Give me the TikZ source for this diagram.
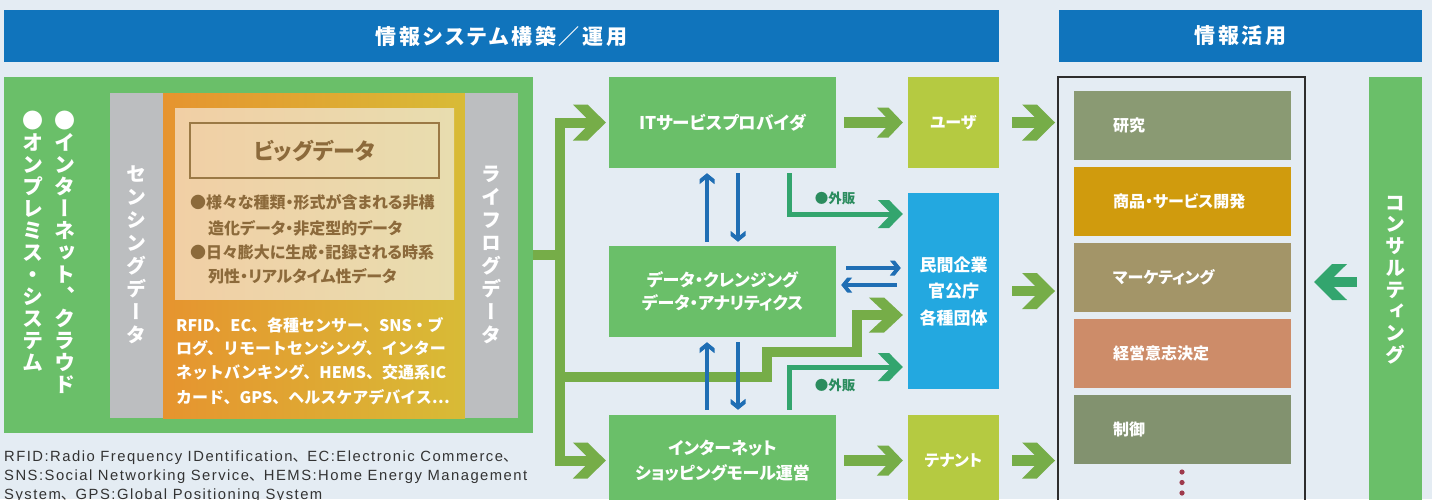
\documentclass[tikz,border=0pt]{standalone}
\usepackage{fontspec}
\setmainfont{Noto Sans CJK JP}[RawFeature=+palt]
\newfontfamily\jpfull{Noto Sans CJK JP}
\newfontfamily\vjp{Noto Sans CJK JP}[RawFeature=+vert]
\newfontfamily\latf{Liberation Sans}[LetterSpace=10]
\usetikzlibrary{arrows.meta}
\pgfdeclarearrow{
  name = Chev,
  parameters = {\the\pgfarrowlength,\the\pgfarrowwidth},
  setup code = {
    \pgfarrowssettipend{0pt}
    \pgfarrowssetlineend{-0.4\pgfarrowlength}
    \pgfarrowssetvisualbackend{-\pgfarrowlength}
    \pgfarrowssetbackend{-\pgfarrowlength}
    \pgfarrowssavethe\pgfarrowlength
    \pgfarrowssavethe\pgfarrowwidth
  },
  drawing code = {
    \pgfpathmoveto{\pgfqpoint{0pt}{0pt}}
    \pgfpathlineto{\pgfqpoint{-0.55\pgfarrowlength}{0.5\pgfarrowwidth}}
    \pgfpathlineto{\pgfqpoint{-\pgfarrowlength}{0.5\pgfarrowwidth}}
    \pgfpathlineto{\pgfqpoint{-0.45\pgfarrowlength}{0pt}}
    \pgfpathlineto{\pgfqpoint{-\pgfarrowlength}{-0.5\pgfarrowwidth}}
    \pgfpathlineto{\pgfqpoint{-0.55\pgfarrowlength}{-0.5\pgfarrowwidth}}
    \pgfpathclose
    \pgfusepathqfill
  },
  defaults = {length = 26pt, width = 30pt}
}
\definecolor{bgc}{HTML}{E4ECF3}
\definecolor{bann}{HTML}{1074BC}
\definecolor{boxg}{HTML}{6ABF69}
\definecolor{grayc}{HTML}{BCBEC0}
\definecolor{or1}{HTML}{E6942F}
\definecolor{or2}{HTML}{D8BB36}
\definecolor{lt1}{HTML}{F1CFA5}
\definecolor{lt2}{HTML}{E8DDAF}
\definecolor{brn}{HTML}{8C6A3B}
\definecolor{brnb}{HTML}{9B7945}
\definecolor{arrg}{HTML}{76AD48}
\definecolor{tealg}{HTML}{33A56E}
\definecolor{lblc}{HTML}{2B8C5E}
\definecolor{blu}{HTML}{1F6EB4}
\definecolor{ygc}{HTML}{B5CA41}
\definecolor{cyc}{HTML}{23A8E0}
\definecolor{rc1}{HTML}{8A9A73}
\definecolor{rc2}{HTML}{D09B0D}
\definecolor{rc3}{HTML}{A39568}
\definecolor{rc4}{HTML}{CD8C69}
\definecolor{rc5}{HTML}{82926F}
\definecolor{dotc}{HTML}{9E3A4C}
\definecolor{fnc}{HTML}{333333}
\definecolor{panc}{HTML}{2D2D2D}
\begin{document}
\begin{tikzpicture}[x=1pt,y=-1pt,
  bannerbox/.style={fill=bann, text=white, inner sep=0, font=\bfseries\fontsize{21}{24}\selectfont\addfontfeature{LetterSpace=13}},
  gbox/.style={fill=boxg, text=white, inner sep=0, align=center, minimum width=227pt, minimum height=91pt, font=\bfseries\fontsize{17.5}{24}\selectfont},
  sbox/.style={text=white, inner sep=0, align=center, minimum width=91pt, font=\bfseries\fontsize{16}{26.5}\selectfont},
  vt/.style={text=white, inner sep=0, align=center, font=\vjp\bfseries\fontsize{21}{22}\selectfont},
  vts/.style={text=white, inner sep=0, align=center, font=\vjp\bfseries\fontsize{20}{23}\selectfont},
  bdt/.style={text=brn, inner sep=0, anchor=west, font=\bfseries\fontsize{16}{18}\selectfont},
  wt/.style={text=white, inner sep=0, anchor=west, font=\jpfull\bfseries\fontsize{16}{18}\selectfont},
  rbox/.style={minimum width=217pt, minimum height=69pt, inner sep=0, text width=217pt, align=left, text=white, font=\bfseries\fontsize{16}{18}\selectfont},
  lbl/.style={text=lblc, inner sep=0, font=\bfseries\fontsize{13.5}{15}\selectfont},
  fn/.style={text=fnc, inner sep=0, anchor=west, font=\latf\fontsize{14.8}{18}\selectfont},
  trunk/.style={draw=arrg, line width=10pt, line join=miter},
  bigarr/.style={draw=arrg, line width=10.5pt, -{Chev[length=33pt,width=36pt]}},
  midarr/.style={draw=arrg, line width=11pt, -{Chev[length=26pt,width=30pt]}},
  tarr/.style={draw=tealg, line width=5pt, line join=miter, -{Chev[length=25pt,width=28pt]}},
  barr/.style={draw=blu, line width=4.5pt, -{Chev[length=11pt,width=15pt]}}
]
\useasboundingbox (0,0) rectangle (1432,499);
\fill[bgc] (0,0) rectangle (1432,499);

% banners
\node[bannerbox, minimum width=995pt, minimum height=52pt] (b1) at (501.5,36) {情報システム構築／運用};
\node[bannerbox, minimum width=363pt, minimum height=52pt] (b2) at (1240.5,36) {情報活用};

% source box
\node[fill=boxg, minimum width=529pt, minimum height=356pt, inner sep=0] (src) at (268.5,255) {};
\node[fill=grayc, minimum width=53pt, minimum height=325pt, inner sep=0] (sens) at (136.5,255.5) {};
\node[left color=or1, right color=or2, minimum width=302pt, minimum height=325pt, inner sep=0] (orb) at (314,255.5) {};
\node[fill=grayc, minimum width=53pt, minimum height=325pt, inner sep=0] (life) at (491.5,255.5) {};
\node[left color=lt1, right color=lt2, minimum width=279pt, minimum height=191pt, inner sep=0] (inner) at (314.5,203.5) {};
\node[draw=brnb, line width=1.5pt, text=brn, minimum width=249pt, minimum height=55pt, inner sep=0, font=\bfseries\fontsize{22}{24}\selectfont] (bdtitle) at (314.5,150.5) {ビッグデータ};

\node[bdt] (l1) at (190,202) {●様々な種類・形式が含まれる非構};
\node[bdt] (l2) at (208,228) {造化データ・非定型的データ};
\node[bdt] (l3) at (190,252) {●日々膨大に生成・記録される時系};
\node[bdt] (l4) at (208,276) {列性・リアルタイム性データ};

\node[wt] (w1) at (176,325) {RFID、EC、各種センサー、SNS・ブ};
\node[wt] (w2) at (176,348) {ログ、リモートセンシング、インター};
\node[wt] (w3) at (176,372) {ネットバンキング、HEMS、交通系IC};
\node[wt] (w4) at (176,397) {カード、GPS、ヘルスケアデバイス…};

\node[vt, anchor=north] (v1) at (65,111) {●\\イ\\ン\\タ\\ー\\ネ\\ッ\\ト\\、\\ク\\ラ\\ウ\\ド};
\node[vt, anchor=north] (v2) at (33,111) {●\\オ\\ン\\プ\\レ\\ミ\\ス\\・\\シ\\ス\\テ\\ム};
\node[vts] (vs) at (136.5,255) {セ\\ン\\シ\\ン\\グ\\デ\\ー\\タ};
\node[vts] (vl) at (491.5,255) {ラ\\イ\\フ\\ロ\\グ\\デ\\ー\\タ};

% middle boxes
\node[gbox] (itsp) at (722.5,122.5) {ITサービスプロバイダ};
\node[gbox, font=\bfseries\fontsize{17}{23}\selectfont] (dca) at (722.5,291.5) {データ・クレンジング\\データ・アナリティクス};
\node[gbox, font=\bfseries\fontsize{17}{24.5}\selectfont] (mall) at (722.5,460.5) {インターネット\\ショッピングモール運営};
\node[sbox, fill=ygc, minimum height=91pt] (user) at (953.5,122.5) {ユーザ};
\node[sbox, fill=cyc, minimum height=196pt, font=\bfseries\fontsize{17}{26.5}\selectfont] (minkan) at (953.5,291) {民間企業\\官公庁\\各種団体};
\node[sbox, fill=ygc, minimum height=91pt] (tenant) at (953.5,460.5) {テナント};

% right panel
\node[draw=panc, line width=2pt, minimum width=247pt, minimum height=446pt, inner sep=0] (panel) at (1181.5,300) {};
\node[rbox, fill=rc1] (r1) at (1182.5,125.5) {\hspace*{39pt}研究};
\node[rbox, fill=rc2] (r2) at (1182.5,201.5) {\hspace*{39pt}商品・サービス開発};
\node[rbox, fill=rc3] (r3) at (1182.5,277.5) {\hspace*{39pt}マーケティング};
\node[rbox, fill=rc4] (r4) at (1182.5,353.5) {\hspace*{39pt}経営意志決定};
\node[rbox, fill=rc5] (r5) at (1182.5,429.5) {\hspace*{39pt}制御};
\fill[dotc] (1182,472) circle (2.6pt);
\fill[dotc] (1182,482.5) circle (2.6pt);
\fill[dotc] (1182,493) circle (2.6pt);

\node[fill=boxg, minimum width=53pt, minimum height=446pt, inner sep=0] (consult) at (1395.5,300) {};
\node[vts, font=\vjp\bfseries\fontsize{20}{21.75}\selectfont] (vc) at (1395.5,280) {コ\\ン\\サ\\ル\\テ\\ィ\\ン\\グ};

% trunk
\coordinate (tj) at (560,255);
\coordinate (bA) at (560,377);
\coordinate (bB) at (767,377);
\coordinate (bC) at (767,352);
\coordinate (bD) at (857,352);
\coordinate (bE) at (857,315);
\draw[trunk] (src.east) -- (tj);
\draw[trunk, -{Chev[length=33pt,width=36pt]}, shorten >=3pt] (tj) |- (itsp.west);
\draw[trunk, -{Chev[length=33pt,width=36pt]}, shorten >=3pt] (tj) |- (mall.west);
\draw[trunk, -{Chev[length=34pt,width=35pt]}, shorten >=5pt] (bA) -- (bB) -- (bC) -- (bD) -- (bE) -- (minkan.west |- bE);

% arrows to user/tenant
\draw[midarr, shorten <=8pt, shorten >=5pt] (itsp) -- (user);
\draw[midarr, shorten <=8pt, shorten >=5pt] (mall) -- (tenant);

% to panel
\draw[bigarr, shorten <=13pt, shorten >=2pt] (user.east) -- (user.east -| panel.west);
\draw[bigarr, shorten <=13pt, shorten >=2pt] (minkan.east) -- (minkan.east -| panel.west);
\draw[bigarr, shorten <=13pt, shorten >=2pt] (tenant.east) -- (tenant.east -| panel.west);
\coordinate (ca) at (1369,282);
\draw[bigarr, draw=tealg, shorten <=12pt, shorten >=8pt] (consult.west |- ca) -- (panel.east |- ca);

% gaihan
\draw[tarr, shorten >=5pt] ([xshift=66.5pt,yshift=-5pt]itsp.south) |- (minkan.west |- 0,214);
\draw[tarr, shorten >=5pt] ([xshift=66.5pt,yshift=5pt]mall.north) |- (minkan.west |- 0,367);
\node[lbl] (g1) at (835,198) {●外販};
\node[lbl] (g2) at (835,385) {●外販};

% blue arrows
\draw[barr] ([xshift=-15.5pt,yshift=4pt]dca.north) -- ([xshift=-15.5pt,yshift=-5pt]itsp.south);
\draw[barr] ([xshift=15.5pt,yshift=-5pt]itsp.south) -- ([xshift=15.5pt,yshift=4pt]dca.north);
\draw[barr] ([xshift=-15.5pt,yshift=5pt]mall.north) -- ([xshift=-15.5pt,yshift=-5pt]dca.south);
\draw[barr] ([xshift=15.5pt,yshift=-5pt]dca.south) -- ([xshift=15.5pt,yshift=5pt]mall.north);
\draw[barr, shorten <=10pt, shorten >=7pt] (dca.east |- 0,268) -- (minkan.west |- 0,268);
\draw[barr, shorten <=11pt, shorten >=5pt] (minkan.west |- 0,285) -- (dca.east |- 0,285);

% footnote
\node[fn] (f1) at (4,458) {RFID:Radio Frequency IDentification{\jpfull 、}EC:Electronic Commerce{\jpfull 、}};
\node[fn] (f2) at (4,477) {SNS:Social Networking Service{\jpfull 、}HEMS:Home Energy Management};
\node[fn] (f3) at (4,496) {System{\jpfull 、}GPS:Global Positioning System};
\end{tikzpicture}
\end{document}
